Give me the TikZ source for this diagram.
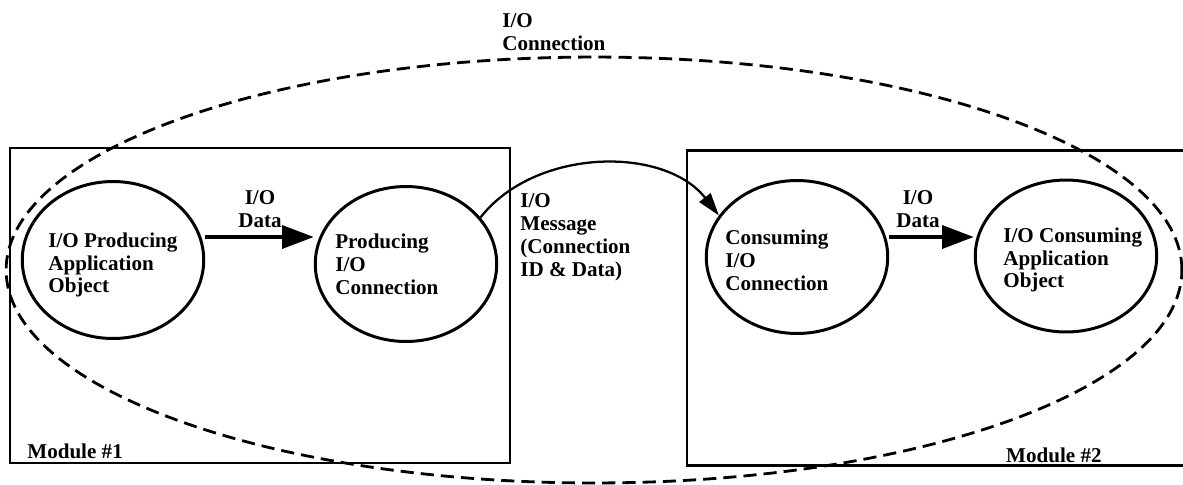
\documentclass[tikz,border=0pt]{standalone}
\usepackage{fontspec}
\setmainfont{Liberation Serif}
\usetikzlibrary{arrows.meta,shapes.geometric}

\begin{document}
\begin{tikzpicture}[x=0.02cm,y=-0.02cm,
    every node/.style={font=\bfseries\fontsize{12}{13}\selectfont},
    module/.style={draw,line width=1.2pt,minimum width=#1,minimum height=6.3cm},
    obj/.style={draw,ellipse,line width=1.7pt,minimum width=3.63cm},
    txt/.style={align=left,inner sep=0pt},
    bound/.style={draw,ellipse,dashed,line width=1.6pt,dash pattern=on 7.5pt off 4pt},
    dataflow/.style={line width=2.2pt,-{Triangle[length=18pt,width=13pt]}},
    msgflow/.style={line width=1.3pt,-{Triangle[length=13pt,width=8pt]}}]
    \useasboundingbox (0,0) rectangle (1183,484);

    \node [module=10cm] (mod1) at (260,305.5) {};
    \node [module=10.16cm] (mod2) at (941,308) {};
    \node [txt,anchor=west] (mod1lbl) at (27,451) {Module \#1};
    \node [txt,anchor=east] (mod2lbl) at (1102,455) {Module \#2};

    \node [bound,minimum width=23.52cm,minimum height=8.52cm] (ioconn) at (594,270) {};
    \node [txt,anchor=west] (ioconnlbl) at (502,32) {I/O\\Connection};

    \node [obj,minimum height=3.14cm] (prodapp) at (113,260) {};
    \node [obj,minimum height=3.1cm] (prodconn) at (406,264) {};
    \node [obj,minimum height=3.06cm] (consconn) at (797,257) {};
    \node [obj,minimum height=3.04cm] (consapp) at (1066,256) {};

    \node [txt,anchor=west] (prodapptxt) at (48,265) {I/O Producing\\Application\\Object};
    \node [txt,anchor=west] (prodconntxt) at (335,264) {Producing\\I/O\\Connection};
    \node [txt,anchor=west] (consconntxt) at (725,260) {Consuming\\I/O\\Connection};
    \node [txt,anchor=west] (consapptxt) at (1003,260) {I/O Consuming\\Application\\Object};

    \coordinate (flow) at (0,237);
    \draw [dataflow] (prodapp.east |- flow) -- (prodconn.west |- flow);
    \draw [dataflow] (consconn.east |- flow) -- (consapp.west |- flow);
    \node [txt,align=center] (data1) at (260,209) {I/O\\Data};
    \node [txt,align=center] (data2) at (918,209) {I/O\\Data};

    \draw [msgflow] (prodconn.32) to [out=52,in=128,looseness=0.95] (consconn.152);
    \node [txt,anchor=west] (msg) at (520,237) {I/O\\Message\\(Connection\\ID \& Data)};
\end{tikzpicture}
\end{document}
